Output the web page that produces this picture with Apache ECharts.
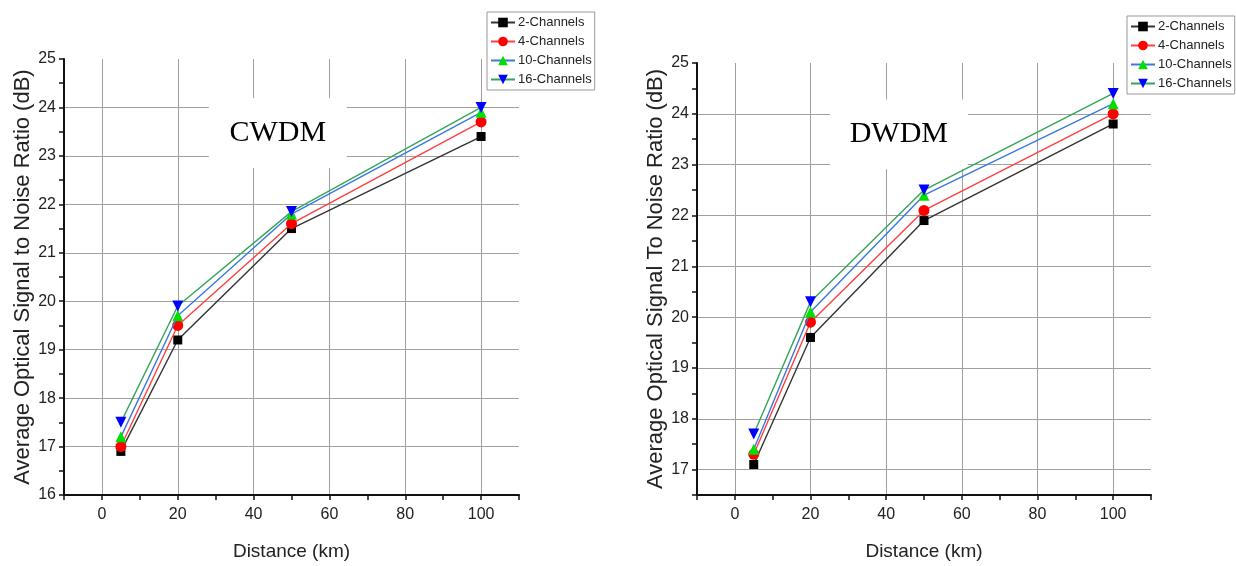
<!DOCTYPE html>
<html>
<head>
<meta charset="utf-8">
<script src="https://cdn.jsdelivr.net/npm/echarts@6/dist/echarts.min.js"></script>
<style>
  html, body { margin: 0; padding: 0; background: #fff; }
  #main { width: 1236px; height: 566px; }
</style>
</head>
<body>
<div id="main"></div>
<script>
// distances on the x axis (km)
var distanceKm = [5, 20, 50, 100];
var channelNames = ['2-Channels', '4-Channels', '10-Channels', '16-Channels'];

// CWDM OSNR (dB)
var cwdm2 = [16.9, 19.2, 21.5, 23.4];
var cwdm4 = [17.0, 19.5, 21.6, 23.7];
var cwdm10 = [17.2, 19.7, 21.8, 23.9];
var cwdm16 = [17.5, 19.9, 21.85, 24.0];

// DWDM OSNR (dB)
var dwdm2 = [17.1, 19.6, 21.9, 23.8];
var dwdm4 = [17.3, 19.9, 22.1, 24.0];
var dwdm10 = [17.4, 20.1, 22.4, 24.2];
var dwdm16 = [17.7, 20.3, 22.5, 24.4];

var myChart = echarts.init(document.getElementById('main'));

var labelFont = "'Liberation Sans', Arial, sans-serif";
var lineColors = ['#333333', '#ff4040', '#3a78e0', '#35a55a'];
var markColors = ['#000000', '#ff0000', '#00e000', '#0000ff'];
var markSymbols = ['rect', 'circle', 'triangle', 'triangle'];
var markRotate = [0, 0, 0, 180];
var markSizes = [9, 11, 11, 11];

function pairs(ys) {
  var out = [];
  for (var i = 0; i < distanceKm.length; ++i) {
    out.push([distanceKm[i], ys[i]]);
  }
  return out;
}

function xAxisFor(gridIndex) {
  return {
    type: 'value',
    gridIndex: gridIndex,
    min: -10,
    max: 110,
    interval: 10,
    name: 'Distance (km)',
    nameLocation: 'middle',
    nameGap: 47,
    nameTextStyle: { fontSize: 19, color: '#222', fontFamily: labelFont },
    axisLine: { show: true, onZero: false, lineStyle: { color: '#111', width: 2 } },
    axisTick: { show: true, inside: false, length: 5, lineStyle: { color: '#111', width: 1.5 } },
    axisLabel: {
      fontSize: 16,
      color: '#222',
      margin: 12,
      fontFamily: labelFont,
      formatter: function (v) {
        return (v % 20 === 0 && v >= 0 && v <= 100) ? String(v) : '';
      },
    },
    splitLine: {
      show: true,
      showMaxLine: false,
      lineStyle: { color: ['transparent', '#a0a0a0'], width: 1 },
    },
  };
}

function yAxisFor(gridIndex, min, title, colors) {
  return {
    type: 'value',
    gridIndex: gridIndex,
    min: min,
    max: 25,
    interval: 0.5,
    name: title,
    nameLocation: 'middle',
    nameGap: 29,
    nameTextStyle: { fontSize: 22, color: '#222', fontFamily: labelFont },
    axisLine: { show: true, onZero: false, lineStyle: { color: '#111', width: 2 } },
    axisTick: { show: true, inside: false, length: 5, lineStyle: { color: '#111', width: 1.5 } },
    axisLabel: {
      fontSize: 16,
      color: '#222',
      margin: 8,
      fontFamily: labelFont,
      formatter: function (v) {
        return Number.isInteger(v) ? String(v) : '';
      },
    },
    splitLine: {
      show: true,
      showMaxLine: false,
      lineStyle: { color: colors, width: 1 },
    },
  };
}

function seriesFor(name, idx, gridIndex, ys, boxText, box) {
  var s = {
    name: name,
    type: 'line',
    xAxisIndex: gridIndex,
    yAxisIndex: gridIndex,
    data: pairs(ys),
    symbol: markSymbols[idx],
    symbolRotate: markRotate[idx],
    symbolSize: markSizes[idx],
    showSymbol: true,
    lineStyle: { color: lineColors[idx], width: 1.4 },
    itemStyle: { color: markColors[idx] },
    z: 3 + idx,
    animation: false,
  };
  if (boxText) {
    s.markArea = {
      silent: true,
      itemStyle: { color: '#ffffff' },
      label: {
        show: true,
        position: 'inside',
        formatter: boxText,
        fontSize: 30,
        color: '#000',
        fontFamily: "'Liberation Serif', 'Times New Roman', serif",
      },
      data: [[{ xAxis: box[0], yAxis: box[1] }, { xAxis: box[2], yAxis: box[3] }]],
    };
  }
  return s;
}

var legendCommon = {
  orient: 'vertical',
  data: channelNames,
  itemWidth: 24,
  itemHeight: 12,
  itemGap: 6,
  padding: [4, 3, 4, 3],
  borderColor: '#999',
  borderWidth: 1,
  backgroundColor: '#fff',
  textStyle: { fontSize: 13, color: '#222', fontFamily: labelFont, padding: [0, 0, 0, -2] },
};

var option = {
  backgroundColor: '#ffffff',
  animation: false,
  grid: [
    { left: 64, top: 59, width: 455, height: 438 },
    { left: 697, top: 63, width: 454, height: 435 },
  ],
  xAxis: [xAxisFor(0), xAxisFor(1)],
  yAxis: [
    yAxisFor(0, 16, 'Average Optical Signal to Noise Ratio (dB)', ['#a0a0a0', 'transparent']),
    yAxisFor(1, 16.5, 'Average Optical Signal To Noise Ratio (dB)', ['transparent', '#a0a0a0']),
  ],
  legend: [
    Object.assign({ left: 487, top: 12 }, legendCommon),
    Object.assign({ left: 1127, top: 16 }, legendCommon),
  ],
  series: [
    seriesFor(channelNames[0], 0, 0, cwdm2, 'CWDM', [28.2, 24.19, 64.6, 22.75]),
    seriesFor(channelNames[1], 1, 0, cwdm4),
    seriesFor(channelNames[2], 2, 0, cwdm10),
    seriesFor(channelNames[3], 3, 0, cwdm16),
    seriesFor(channelNames[0], 0, 1, dwdm2, 'DWDM', [25.1, 24.28, 61.6, 22.91]),
    seriesFor(channelNames[1], 1, 1, dwdm4),
    seriesFor(channelNames[2], 2, 1, dwdm10),
    seriesFor(channelNames[3], 3, 1, dwdm16),
  ],
};

myChart.setOption(option);
</script>
</body>
</html>
